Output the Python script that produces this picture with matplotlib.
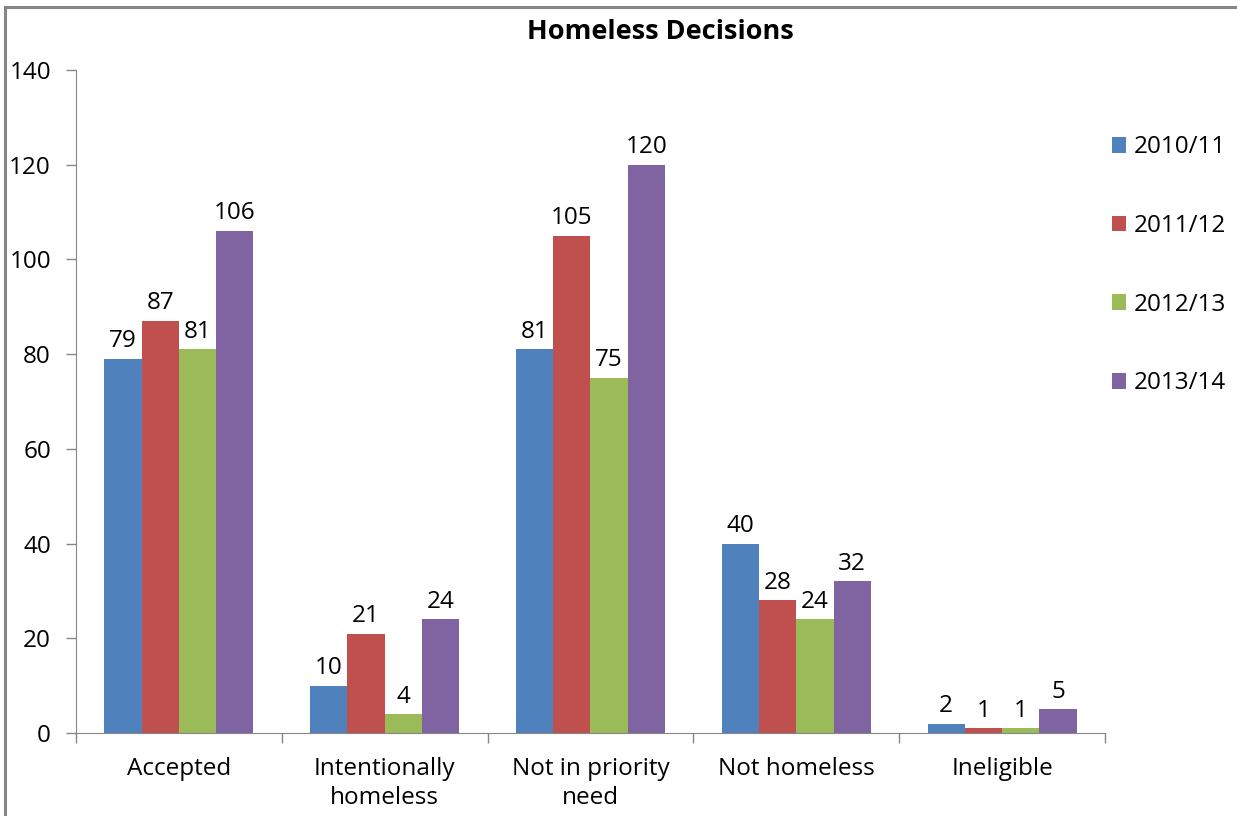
import matplotlib.pyplot as plt
from matplotlib.lines import Line2D
import numpy as np

plt.rcParams['font.family'] = ['Open Sans', 'DejaVu Sans']

categories = ['Accepted', 'Intentionally\nhomeless', 'Not in priority\nneed', 'Not homeless', 'Ineligible']
years = ['2010/11', '2011/12', '2012/13', '2013/14']
v_2010 = [79, 10, 81, 40, 2]
v_2011 = [87, 21, 105, 28, 1]
v_2012 = [81, 4, 75, 24, 1]
v_2013 = [106, 24, 120, 32, 5]
series = [v_2010, v_2011, v_2012, v_2013]
colors = ['#4F81BD', '#C0504D', '#9BBB59', '#8064A2']

fs = 17.5

fig = plt.figure(figsize=(12.37, 8.16), dpi=100)
ax = fig.add_axes([0.0614, 0.1017, 0.8933 - 0.0614, 0.9142 - 0.1017])

x = np.arange(len(categories))
w = 0.181
for i, vals in enumerate(series):
    pos = x + (i - 1.5) * w
    bars = ax.bar(pos, vals, w, color=colors[i], label=years[i])
    for b, v in zip(bars, vals):
        ax.annotate(str(v), (b.get_x() + w / 2, v), xytext=(0, 4), textcoords='offset points',
                    ha='center', va='bottom', fontsize=fs)

ax.set_xlim(-0.5, len(categories) - 0.5)
ax.set_ylim(0, 140)
ax.set_yticks(range(0, 141, 20))
ax.set_xticks(x)
ax.set_xticklabels(categories, linespacing=1.3)
ax.set_xticks(np.arange(-0.5, len(categories), 1), minor=True)
ax.tick_params(axis='x', which='major', length=0, pad=17, labelsize=fs)
ax.tick_params(axis='x', which='minor', length=7, color='#868686', width=1)
ax.tick_params(axis='y', length=7, color='#868686', width=1, pad=11, labelsize=fs)

for s in ['top', 'right']:
    ax.spines[s].set_visible(False)
for s in ['left', 'bottom']:
    ax.spines[s].set_color('#868686')

fig.text(0.534, 0.961, 'Homeless Decisions', ha='center', va='center', fontsize=19.5, fontweight='bold')

ax.legend(loc='upper left', bbox_to_anchor=(0.891, 0.846), bbox_transform=fig.transFigure,
          frameon=False, fontsize=fs, handlelength=0.6, handleheight=0.6,
          handletextpad=0.3, labelspacing=2.25, borderaxespad=0)

# outer chart border: only top and left are visible in the crop
fig.add_artist(Line2D([5 / 1237, 1], [1 - 7 / 816, 1 - 7 / 816], transform=fig.transFigure,
                      color='#868686', linewidth=2.2))
fig.add_artist(Line2D([5 / 1237, 5 / 1237], [0, 1 - 7 / 816], transform=fig.transFigure,
                      color='#868686', linewidth=2.2))

plt.savefig('out.png', dpi=100)
